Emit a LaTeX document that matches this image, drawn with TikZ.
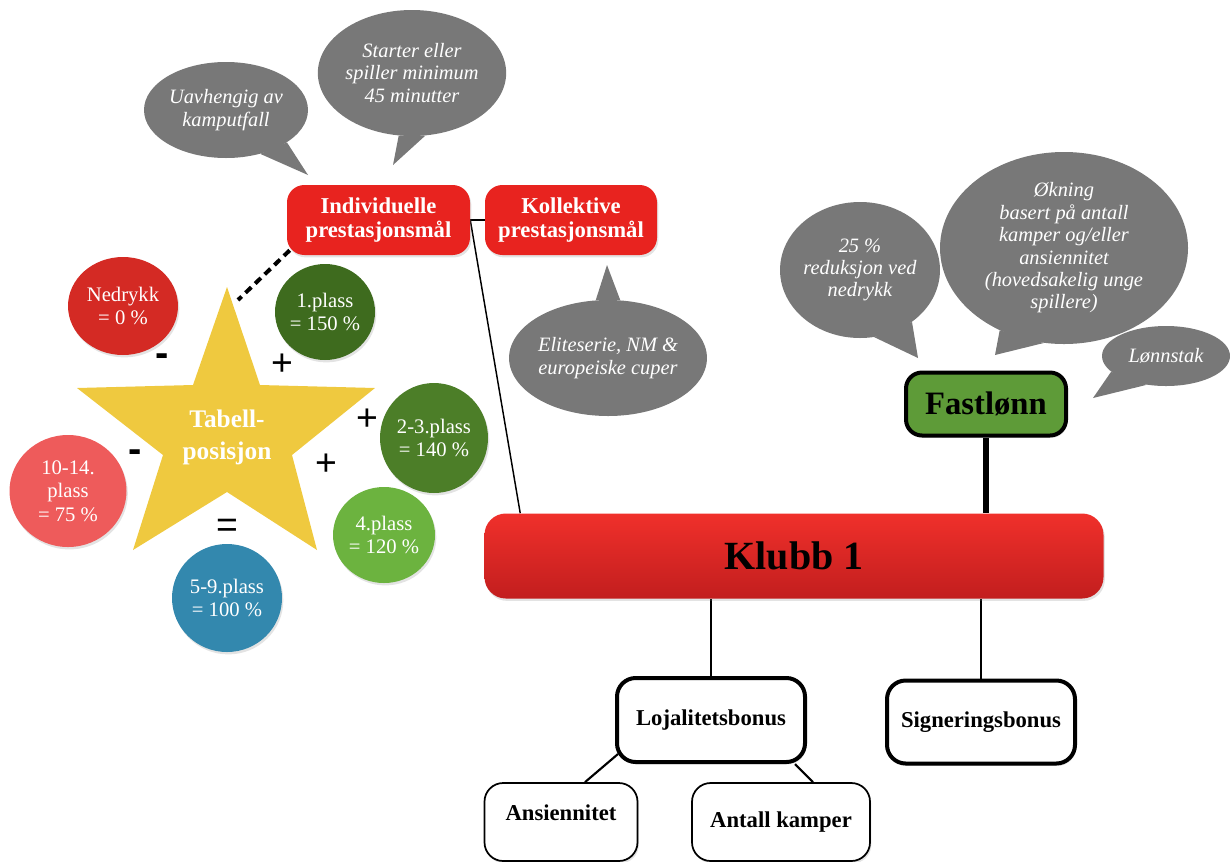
\documentclass[tikz,border=0pt]{standalone}
\usepackage{fontspec}
\setmainfont{Liberation Serif}
\newfontfamily\signfont{Liberation Sans}
\usetikzlibrary{shapes.geometric,shadows,backgrounds,calc}
\definecolor{bubgray}{HTML}{787878}
\definecolor{indred}{HTML}{E8231F}
\definecolor{klubbtop}{HTML}{F0302B}
\definecolor{klubbbot}{HTML}{C21E1E}
\definecolor{fastgreen}{HTML}{5E9B38}
\definecolor{nedred}{HTML}{D42A24}
\definecolor{plassA}{HTML}{3E6B1E}
\definecolor{plassB}{HTML}{4C7E28}
\definecolor{plassC}{HTML}{6CB33F}
\definecolor{plassD}{HTML}{3388AE}
\definecolor{plassE}{HTML}{EE5B5B}
\definecolor{starcol}{HTML}{EFC93F}
\begin{document}
\begin{tikzpicture}[x=0.75pt,y=-0.75pt,
  softshadow/.style={drop shadow={opacity=0.22,shadow xshift=1pt,shadow yshift=-1.8pt}},
  redbox/.style={rectangle,rounded corners=13pt,fill=indred,text=white,
    font=\fontsize{17}{18.5}\selectfont\bfseries,align=center,inner sep=0pt,softshadow},
  bubble/.style={ellipse,fill=bubgray,text=white,
    font=\fontsize{15.3}{16.8}\selectfont\itshape,align=center,inner sep=0pt},
  disc/.style={ellipse,text=white,font=\fontsize{15.5}{17.5}\selectfont,
    align=center,inner sep=0pt,softshadow},
  whitebox/.style={rectangle,rounded corners=14pt,draw=black,fill=white,line width=3pt,
    font=\fontsize{17}{20}\selectfont\bfseries,inner sep=0pt,softshadow},
  thinbox/.style={whitebox,line width=1.3pt},
  signtext/.style={font=\signfont\fontsize{28}{28}\selectfont,inner sep=0pt},
  link/.style={line width=1.1pt},
  tail/.style={fill=bubgray}
]
\useasboundingbox (0,0) rectangle (1230,861);

% ---- speech bubbles ----
\node[bubble,minimum width={164*0.75pt},minimum height={96*0.75pt}] (b1) at (226,110)
  {Uavhengig av\\kamputfall};
\coordinate (t1) at (308,175);
\fill[tail] (b1.-52) -- (t1) -- (b1.-28) -- cycle;

\node[bubble,minimum width={180*0.75pt},minimum height={126*0.75pt}] (b2) at (412,73)
  {Starter eller\\spiller minimum\\45 minutter};
\coordinate (t2) at (393,165);
\fill[tail] (b2.-102) -- (t2) -- (b2.-78) -- cycle;

\node[bubble,minimum width={190*0.75pt},minimum height={116*0.75pt}] (b3) at (608,358)
  {Eliteserie, NM \&\\europeiske cuper};
\coordinate (t3) at (607,265);
\fill[tail] (b3.78) -- (t3) -- (b3.102) -- cycle;

\node[bubble,minimum width={154*0.75pt},minimum height={136*0.75pt}] (b4) at (860,270)
  {25 \%\\reduksjon ved\\nedrykk};
\coordinate (t4) at (918,358);
\fill[tail] (b4.-78) -- (t4) -- (b4.-45) -- cycle;

\node[bubble,minimum width={248*0.75pt},minimum height={192*0.75pt}] (b5) at (1064,248)
  {Økning\\basert på antall\\kamper og/eller\\ansiennitet\\(hovedsakelig unge\\spillere)};
\coordinate (t5) at (995,355);
\fill[tail] (b5.-128) -- (t5) -- (b5.-102) -- cycle;

\node[bubble,minimum width={128*0.75pt},minimum height={60*0.75pt}] (b6) at (1166,356)
  {Lønnstak};
\coordinate (t6) at (1093,398);
\fill[tail] (b6.196) -- (t6) -- (b6.236) -- cycle;

% ---- red goal boxes ----
\node[redbox,minimum width={183*0.75pt},minimum height={70*0.75pt}] (ind) at (378.5,220)
  {Individuelle\\prestasjonsmål};
\node[redbox,minimum width={172*0.75pt},minimum height={70*0.75pt}] (kol) at (571,220)
  {Kollektive\\prestasjonsmål};

% ---- star ----
\fill[starcol] (227,287) -- (260,385) -- (375,388) -- (292,455) -- (317,550)
  -- (227,492) -- (133,550) -- (163,455) -- (77,388) -- (193,385) -- cycle;
\node[text=white,font=\fontsize{19}{24}\selectfont\bfseries,align=center,inner sep=0pt]
  (star) at (227,437) {Tabell-\\posisjon};
\coordinate (startop) at (238,300);

% ---- discs ----
\node[disc,fill=nedred,minimum width={110*0.75pt},minimum height={98*0.75pt}] (ned) at (123,306)
  {Nedrykk\\= 0 \%};
\node[disc,fill=plassA,minimum width={100*0.75pt},minimum height={96*0.75pt}] (p1) at (325,312)
  {1.plass\\= 150 \%};
\node[disc,fill=plassB,minimum width={108*0.75pt},minimum height={110*0.75pt}] (p23) at (434,438)
  {2-3.plass\\= 140 \%};
\node[disc,fill=plassC,minimum width={102*0.75pt},minimum height={96*0.75pt}] (p4) at (384,535)
  {4.plass\\= 120 \%};
\node[disc,fill=plassD,minimum width={110*0.75pt},minimum height={108*0.75pt}] (p59) at (227,598)
  {5-9.plass\\= 100 \%};
\node[disc,fill=plassE,minimum width={117*0.75pt},minimum height={112*0.75pt}] (p1014) at (68,491)
  {10-14.\\plass\\= 75 \%};

% ---- signs ----
\node[signtext,font=\signfont\bfseries\fontsize{30}{30}\selectfont] (s1) at (162,360) {-};
\node[signtext] (s2) at (282,365) {+};
\node[signtext] (s3) at (367,420) {+};
\node[signtext] (s4) at (326,465) {+};
\node[signtext,font=\signfont\bfseries\fontsize{30}{30}\selectfont] (s5) at (135,456) {-};
\node[signtext] (s6) at (227,528) {=};

% ---- club and salary ----
\node[rectangle,rounded corners=16pt,top color=klubbtop,bottom color=klubbbot,
  minimum width={619*0.75pt},minimum height={85*0.75pt},inner sep=0pt,softshadow,
  font=\fontsize{30}{30}\selectfont\bfseries] (klubb) at (794,556) {Klubb 1};

\node[rectangle,rounded corners=12pt,fill=fastgreen,draw=black,line width=3pt,
  minimum width={160*0.75pt},minimum height={63*0.75pt},inner sep=0pt,softshadow,
  font=\fontsize{24.5}{26}\selectfont\bfseries] (fast) at (986,404) {Fastlønn};

\node[whitebox,minimum width={188*0.75pt},minimum height={84*0.75pt}] (loj) at (711,720)
  {Lojalitetsbonus};
\node[whitebox,minimum width={188*0.75pt},minimum height={83*0.75pt}] (sign) at (981,722)
  {Signeringsbonus};
\node[thinbox,minimum width={153*0.75pt},minimum height={78*0.75pt},text height=12pt,text depth=15pt]
  (ans) at (561,822) {Ansiennitet};
\node[thinbox,minimum width={178*0.75pt},minimum height={78*0.75pt}] (ant) at (781,822)
  {Antall kamper};

% ---- connectors ----
\begin{pgfonlayer}{background}
  \draw[link] (ind.east) -- (kol.west);
  \draw[link] (ind.east) -- ([xshift=27pt]klubb.north west);
  \draw[line width=3pt,dash pattern=on 6pt off 4pt] ([shift={(3,-5)}]ind.south west) -- (startop);
  \draw[line width=5pt] (fast.south) -- (fast.south |- klubb.north);
  \draw[link] (loj.north) -- (loj.north |- klubb.south);
  \draw[link] (sign.north) -- (sign.north |- klubb.south);
  \draw[line width=1.6pt] ([shift={(3,-10)}]loj.south west) -- ([xshift=18pt]ans.north);
  \draw[line width=1.6pt] ([xshift=-9pt]loj.south east) -- ([xshift=24pt]ant.north);
\end{pgfonlayer}
\end{tikzpicture}
\end{document}
